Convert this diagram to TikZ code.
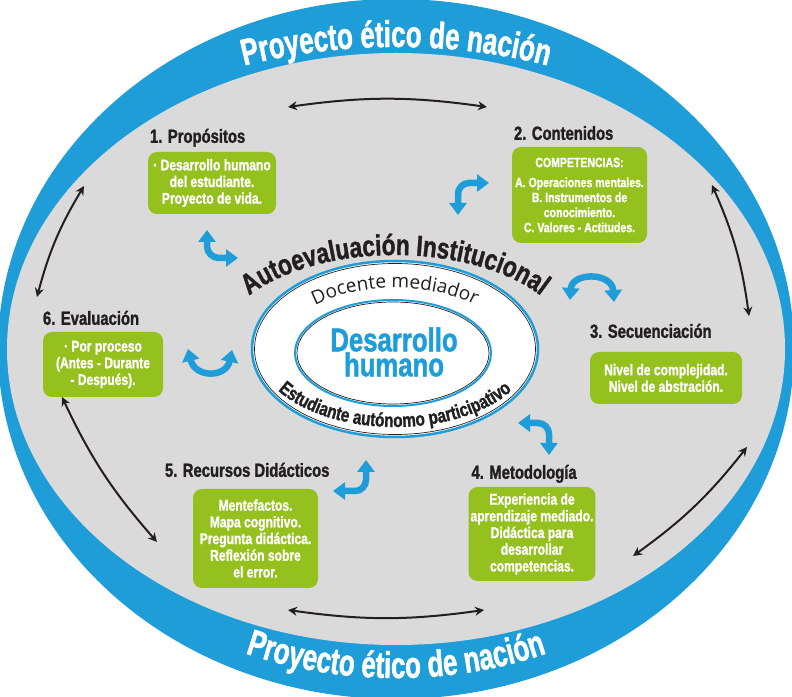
\documentclass[tikz,border=0pt]{standalone}
\usepackage{fontspec}
\setmainfont{Liberation Sans}
\newfontfamily\condfont{Liberation Sans}[FakeStretch=0.78, BoldFeatures={FakeBold=1.3}]
\newfontfamily\titlefont{Liberation Sans}[FakeStretch=0.70, BoldFeatures={FakeBold=1.3}]
\newfontfamily\docfont{Open Sans}
\usetikzlibrary{arrows.meta, decorations.text, positioning}
\definecolor{my_blue}{HTML}{1F9DD9}
\definecolor{my_green}{HTML}{95C11F}
\definecolor{my_gray}{HTML}{DADADA}
\definecolor{my_dark}{HTML}{231F20}
\colorlet{band_fill}{my_blue}
\colorlet{field_fill}{my_gray}
\colorlet{box_fill}{my_green}
\colorlet{head_text}{my_dark}
\colorlet{link_line}{my_dark}
\colorlet{turn_fill}{my_blue}

\begin{document}
\begin{tikzpicture}[
    x=1pt, y=1pt,
    cycle-link/.style={color=link_line, line width=2pt,
      {Stealth[length=9pt,width=9pt]}-{Stealth[length=9pt,width=9pt]}},
    turn-arrow/.style={color=turn_fill, line width=6.5pt,
      {Triangle[length=12pt,width=17pt]}-{Triangle[length=12pt,width=17pt]}},
    green-box/.style={fill=box_fill, rounded corners=9pt, text=white, align=center, inner sep=2pt},
    box-text/.style={font=\condfont\bfseries\fontsize{15.5}{16.7}\selectfont},
    comp-text/.style={font=\condfont\bfseries\fontsize{13.5}{15}\selectfont},
    box-head/.style={color=head_text, inner sep=0pt, anchor=base west,
      font=\condfont\bfseries\fontsize{19}{19}\selectfont},
    core-text/.style={color=my_blue, align=center, inner sep=0pt,
      font=\condfont\bfseries\fontsize{33}{25}\selectfont},
  ]
  \useasboundingbox (0,0) rectangle (792,696);
  %%%%%%%%%% Outer band and field %%%%%%%%%%
  \fill[band_fill] (396,347) ellipse[x radius=398, y radius=350];
  \fill[field_fill] (396,347) ellipse[x radius=389, y radius=296];

  %%%%%%%%%% Band titles %%%%%%%%%%
  \path[decorate, decoration={text along path, text align=center,
      text={|\titlefont\bfseries\fontsize{37}{37}\selectfont\color{white}|Proyecto ético de nación}}]
    ([shift={(150:440 and 302)}]396,347) arc[start angle=150, end angle=30, x radius=440, y radius=302];
  \path[decorate, decoration={text along path, text align=center,
      text={|\titlefont\bfseries\fontsize{37}{37}\selectfont\color{white}|Proyecto ético de nación}}]
    ([shift={(210:397 and 329)}]396,347) arc[start angle=210, end angle=330, x radius=397, y radius=329];

  %%%%%%%%%% Center rings %%%%%%%%%%
  \filldraw[fill=white, draw=my_blue, line width=2.5pt] (395,347) ellipse[x radius=143, y radius=88];
  \draw[link_line, line width=0.7pt] (395,347) ellipse[x radius=140.5, y radius=85.5];
  \draw[my_blue, line width=2pt] (393,343) ellipse[x radius=98, y radius=53];
  \draw[link_line, line width=0.7pt] (393,343) ellipse[x radius=96, y radius=51];
  \node[core-text] (core) at (394,344) {Desarrollo\\humano};

  \path[decorate, decoration={text along path, text align=center,
      text={|\condfont\bfseries\fontsize{29}{29}\selectfont\color{head_text}|Autoevaluación Institucional}}]
    ([shift={(165:177 and 94)}]395,347) arc[start angle=165, end angle=15, x radius=177, y radius=94];
  \path[decorate, decoration={text along path, text align=center,
      text={|\docfont\fontsize{19}{19}\selectfont\color{head_text}|Docente mediador}}]
    ([shift={(160:115 and 61)}]395,347) arc[start angle=160, end angle=20, x radius=115, y radius=61];
  \path[decorate, decoration={text along path, text align=center,
      text={|\condfont\bfseries\fontsize{19.5}{20}\selectfont\color{head_text}|Estudiante autónomo participativo}}]
    ([shift={(195:138 and 78)}]395,347) arc[start angle=195, end angle=345, x radius=138, y radius=78];

  %%%%%%%%%% Boxes %%%%%%%%%%
  \node[green-box, box-text, minimum width=128pt, minimum height=62pt] (b1) at (212,513)
    {· Desarrollo humano\\del estudiante.\\Proyecto de vida.};
  \node[green-box, comp-text, minimum width=135pt, minimum height=96pt] (b2) at (579.5,501)
    {COMPETENCIAS:\\[5pt]A. Operaciones mentales.\\B. Instrumentos de\\conocimiento.\\C. Valores - Actitudes.};
  \node[green-box, box-text, minimum width=152pt, minimum height=52pt] (b3) at (666,318)
    {Nivel de complejidad.\\Nivel de abstración.};
  \node[green-box, box-text, minimum width=126pt, minimum height=94pt] (b4) at (532,162)
    {Experiencia de\\aprendizaje mediado.\\Didáctica para\\desarrollar\\competencias.};
  \node[green-box, box-text, minimum width=125pt, minimum height=99pt] (b5) at (255.5,157.5)
    {Mentefactos.\\Mapa cognitivo.\\Pregunta didáctica.\\Reflexión sobre\\el error.};
  \node[green-box, box-text, minimum width=120pt, minimum height=65pt] (b6) at (103,331.5)
    {· Por proceso\\(Antes - Durante\\- Después).};

  \foreach \n/\dx/\dy/\txt in {
    1/2/9/{1. Propósitos},
    2/2/7/{2. Contenidos},
    3/0/14/{3. Secuenciación},
    4/3/8/{4. Metodología},
    5/-28/12/{5. Recursos Didácticos},
    6/0/7/{6. Evaluación}
  } {
    \node[box-head] (h\n) at ([xshift=\dx pt, yshift=\dy pt]b\n.north west) {\txt};
  }

  %%%%%%%%%% Cycle links %%%%%%%%%%
  \coordinate (top-a) at (288,589);
  \coordinate (top-b) at (487,589);
  \coordinate (bot-a) at (288,86);
  \coordinate (bot-b) at (484,86);
  \coordinate (nw-a) at (84,510);
  \coordinate (nw-b) at (37,399);
  \coordinate (ne-a) at (712,511);
  \coordinate (ne-b) at (749,380);
  \coordinate (sw-a) at (62,299);
  \coordinate (sw-b) at (157,154);
  \coordinate (se-a) at (747,249);
  \coordinate (se-b) at (633,140);
  \foreach \a/\b/\side in {top-a/top-b/left, bot-a/bot-b/right, nw-a/nw-b/right,
                           ne-a/ne-b/left, sw-a/sw-b/right, se-a/se-b/left} {
    \draw[cycle-link] (\a) to[bend \side=8] (\b);
  }

  %%%%%%%%%% Turn arrows %%%%%%%%%%
  \draw[turn-arrow] (207,466) -- (207,450) arc[start angle=180, end angle=270, radius=12] -- (238,438);
  \draw[turn-arrow] (458,481) -- (458,502) arc[start angle=180, end angle=90, radius=11] -- (489,513);
  \draw[turn-arrow] (570,396) .. controls (572,424) and (612,424) .. (614,394);
  \draw[turn-arrow] (518,273) -- (538,273) arc[start angle=90, end angle=0, radius=11] -- (549,241);
  \draw[turn-arrow] (366,236) -- (366,216) arc[start angle=0, end angle=-90, radius=11] -- (333,205);
  \draw[turn-arrow] (188,347) .. controls (195,318) and (226,318) .. (232,346);
\end{tikzpicture}
\end{document}
